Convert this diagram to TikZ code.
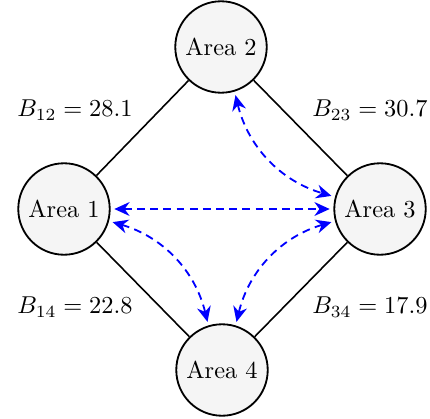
\documentclass[tikz,border=0pt]{standalone}
\usepackage{amsmath,amssymb}
\usepackage{tikz}
\usetikzlibrary{arrows.meta,positioning}
\definecolor{nodefill}{HTML}{F5F5F5}
\tikzset{
  areanode/.style={circle,draw=black,fill=nodefill,line width=0.75pt,
                   minimum size=37.5pt,inner sep=0pt,font=\normalsize},
  tieline/.style={line width=0.65pt,black},
  flowarr/.style={{Stealth[length=2.2mm,width=2mm]}-{Stealth[length=2.2mm,width=2mm]},
                  blue,dash pattern=on 3.2pt off 2.2pt,line width=0.75pt,
                  shorten <=1.5pt,shorten >=1.5pt},
  caplabel/.style={font=\normalsize}
}

\begin{document}
\begin{tikzpicture}[x=0.41pt,y=-0.41pt]
  \useasboundingbox (0,0) rectangle (430,418);
  % areas
  \node[areanode] (a1) at (64,209) {Area 1};
  \node[areanode] (a2) at (221,47) {Area 2};
  \node[areanode] (a3) at (380,209) {Area 3};
  \node[areanode] (a4) at (222,370) {Area 4};
  % tie lines
  \draw[tieline] (a1) -- (a2);
  \draw[tieline] (a2) -- (a3);
  \draw[tieline] (a3) -- (a4);
  \draw[tieline] (a4) -- (a1);
  % capacities
  \node[caplabel] (b12) at (75,110) {$B_{12} = 28.1$};
  \node[caplabel] (b23) at (370,110) {$B_{23} = 30.7$};
  \node[caplabel] (b14) at (75,307) {$B_{14} = 22.8$};
  \node[caplabel] (b34) at (370,307) {$B_{34} = 17.9$};
  % exchanges
  \draw[flowarr] (a1.0) -- (a3.180);
  \draw[flowarr] (a2.-73) to[bend right=30] (a3.165);
  \draw[flowarr] (a1.-15) to[bend left=30] (a4.107);
  \draw[flowarr] (a3.195) to[bend right=30] (a4.73);
\end{tikzpicture}
\end{document}
